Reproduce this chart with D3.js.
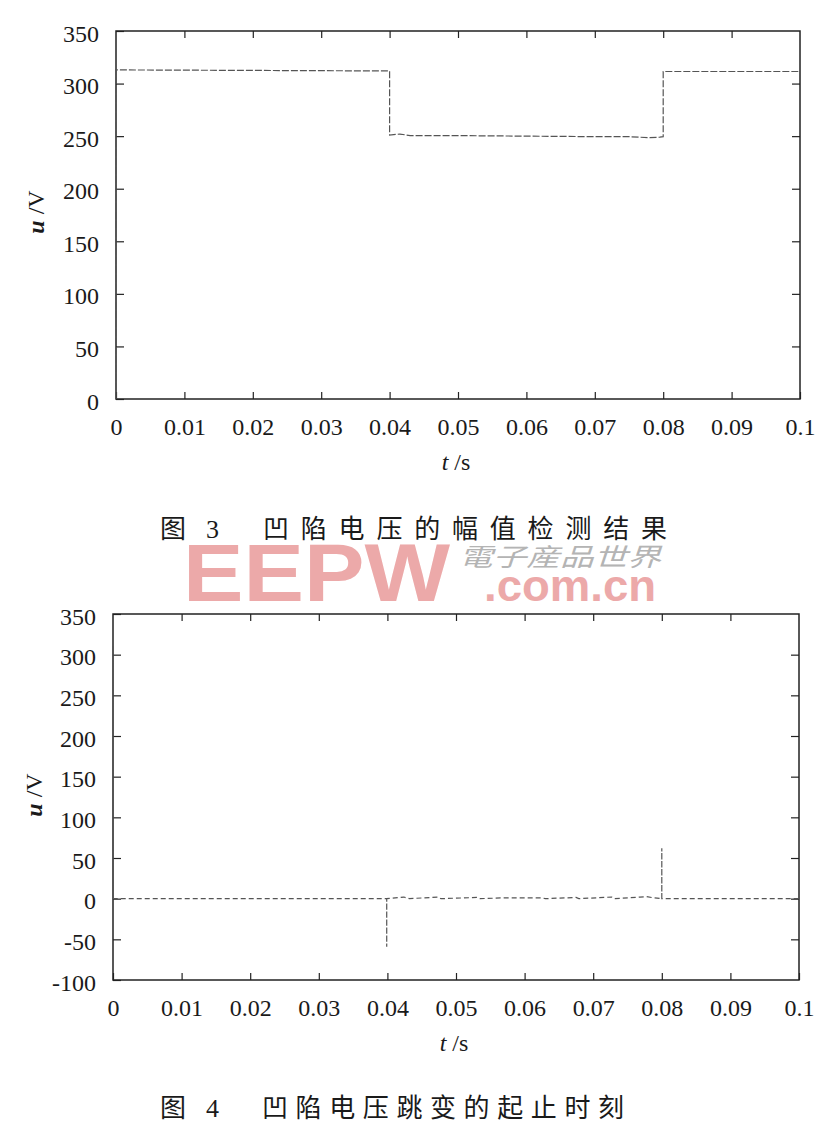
<!DOCTYPE html>
<html>
<head>
<meta charset="utf-8">
<script src="https://cdn.jsdelivr.net/npm/d3@7/dist/d3.min.js"></script>
<style>
  body { margin: 0; background: #fff; }
  svg { display: block; }
  .tick line { stroke: #222; stroke-width: 1.2px; }
</style>
</head>
<body>
<svg id="chart" width="839" height="1132"></svg>
<script>
// fig 3: detected amplitude of the sag voltage
var sagT = [0, 0, 0.02, 0.04, 0.04, 0.0415, 0.043, 0.05, 0.06, 0.07, 0.075, 0.078, 0.0795, 0.08, 0.08, 0.09, 0.1];
var sagU = [0, 313, 312.5, 312, 251, 252, 250.5, 250.5, 250, 249.5, 249.5, 248.5, 249, 249.5, 311.5, 311.5, 311.5];

// fig 4: start / end moment of the voltage jump
var jumpT = [0, 0, 0, 0.0399, 0.0399, 0.0399, 0.0424, 0.0428, 0.0432, 0.0474, 0.0478, 0.0531, 0.0535, 0.057, 0.0626, 0.063,
             0.0675, 0.0679, 0.0727, 0.0731, 0.0768, 0.0778, 0.0788, 0.08, 0.08, 0.08, 0.1];
var jumpU = [0, 310, 0, 0, -59, 0, 2, 1, 0, 2, 0, 1.5, 0, 1, 1, 0, 1.5, 0, 2, 0, 2, 2.5, 1, 0, 62, 0, 0];

var xTicks = [0, 0.01, 0.02, 0.03, 0.04, 0.05, 0.06, 0.07, 0.08, 0.09, 0.1];
var yTicks3 = [0, 50, 100, 150, 200, 250, 300, 350];
var yTicks4 = [-100, -50, 0, 50, 100, 150, 200, 250, 300, 350];

var serif = '"Liberation Serif", "DejaVu Serif", serif';
var svg = d3.select('#chart');

// watermark goes first so the captions sit over it
var wm = svg.append('g');
wm.append('text')
    .attr('x', 183).attr('y', 601)
    .attr('textLength', 267).attr('lengthAdjust', 'spacingAndGlyphs')
    .style('font-family', '"Liberation Sans", Arial, sans-serif')
    .style('font-weight', 'bold').style('font-size', '82px')
    .style('fill', '#eca9a9')
    .text('EEPW');
wm.append('text')
    .attr('x', 459).attr('y', 566)
    .attr('textLength', 202).attr('lengthAdjust', 'spacingAndGlyphs')
    .style('font-family', '"Noto Sans CJK TC", sans-serif')
    .style('font-style', 'italic').style('font-size', '25px')
    .style('fill', '#b4b4b4')
    .text('電子産品世界');
wm.append('text')
    .attr('x', 484).attr('y', 601)
    .attr('textLength', 172).attr('lengthAdjust', 'spacingAndGlyphs')
    .style('font-family', '"Liberation Sans", Arial, sans-serif')
    .style('font-weight', 'bold').style('font-size', '45px')
    .style('fill', '#eca9a9')
    .text('.com.cn');

function drawPanel(opt) {
    var x = d3.scaleLinear().domain([0, 0.1]).range([opt.left, opt.right]);
    var y = d3.scaleLinear().domain(opt.yDomain).range([opt.bottom, opt.top]);
    var g = svg.append('g');
    var fmt = function(d) { return d === 0 ? '0' : String(+d.toFixed(2)); };

    g.append('g')
        .attr('transform', 'translate(0,' + opt.bottom + ')')
        .call(d3.axisBottom(x).tickValues(xTicks).tickFormat(fmt).tickSize(-7).tickSizeOuter(0).tickPadding(19))
        .call(function(a) { a.select('.domain').remove(); });
    g.append('g')
        .attr('transform', 'translate(0,' + opt.top + ')')
        .call(d3.axisTop(x).tickValues(xTicks.slice(1, -1)).tickFormat('').tickSize(-7).tickSizeOuter(0))
        .call(function(a) { a.select('.domain').remove(); });
    var left = g.append('g')
        .attr('transform', 'translate(' + opt.left + ',0)')
        .call(d3.axisLeft(y).tickValues(opt.yTicks).tickFormat(function(d) { return String(d); })
            .tickSize(-8).tickSizeOuter(0).tickPadding(17))
        .call(function(a) { a.select('.domain').remove(); });
    left.selectAll('text').attr('dy', '0.42em');
    g.append('g')
        .attr('transform', 'translate(' + opt.right + ',0)')
        .call(d3.axisRight(y).tickValues(opt.yTicks.slice(1, -1)).tickFormat('').tickSize(-8).tickSizeOuter(0))
        .call(function(a) { a.select('.domain').remove(); });

    g.selectAll('.tick text')
        .style('font-family', serif).style('font-size', '24px').style('fill', '#1a1a1a');

    g.append('rect')
        .attr('x', opt.left).attr('y', opt.top)
        .attr('width', opt.right - opt.left).attr('height', opt.bottom - opt.top)
        .style('fill', 'none').style('stroke', '#222').style('stroke-width', '1.5px');

    var line = d3.line()
        .x(function(d) { return x(d[0]); })
        .y(function(d) { return y(d[1]); });
    g.append('path')
        .datum(d3.zip(opt.t, opt.u))
        .attr('d', line)
        .style('fill', 'none').style('stroke', '#555')
        .style('stroke-width', '1.2px')
        .style('stroke-dasharray', opt.dash);

    var tl = g.append('text')
        .attr('x', (opt.left + opt.right) / 2 - 2).attr('y', opt.bottom + 71)
        .attr('text-anchor', 'middle')
        .style('font-family', serif).style('font-size', '24px')
        .style('fill', '#1a1a1a');
    tl.append('tspan').style('font-style', 'italic').text('t');
    tl.append('tspan').text(' /s');

    var yl = g.append('text')
        .attr('transform', 'translate(' + opt.ylx + ',' + opt.yly + ') rotate(-90)')
        .attr('text-anchor', 'middle')
        .style('font-family', serif).style('font-size', '24px')
        .style('fill', '#1a1a1a');
    yl.append('tspan').style('font-style', 'italic').style('font-weight', 'bold').text('u');
    yl.append('tspan').text(' /V');
}

drawPanel({left: 116, right: 800, top: 31, bottom: 399, yDomain: [0, 350], yTicks: yTicks3,
           t: sagT, u: sagU, dash: '7,2', ylx: 44, yly: 212});
drawPanel({left: 113, right: 799, top: 614, bottom: 980, yDomain: [-100, 350], yTicks: yTicks4,
           t: jumpT, u: jumpU, dash: '5,3', ylx: 42, yly: 795});

function caption(y, num, words, x0, x1) {
    var c = svg.append('g').style('fill', '#1a1a1a');
    c.append('text').attr('x', 160).attr('y', y)
        .style('font-family', '"Noto Sans CJK SC", sans-serif').style('font-size', '26px')
        .text('图');
    c.append('text').attr('x', 206).attr('y', y)
        .style('font-family', serif).style('font-size', '26px')
        .text(num);
    c.append('text').attr('x', x0).attr('y', y)
        .attr('textLength', x1 - x0).attr('lengthAdjust', 'spacing')
        .style('font-family', '"Noto Sans CJK SC", sans-serif').style('font-size', '26px')
        .text(words);
}
caption(538, '3', '凹陷电压的幅值检测结果', 263, 667);
caption(1117, '4', '凹陷电压跳变的起止时刻', 262, 624);
</script>
</body>
</html>
